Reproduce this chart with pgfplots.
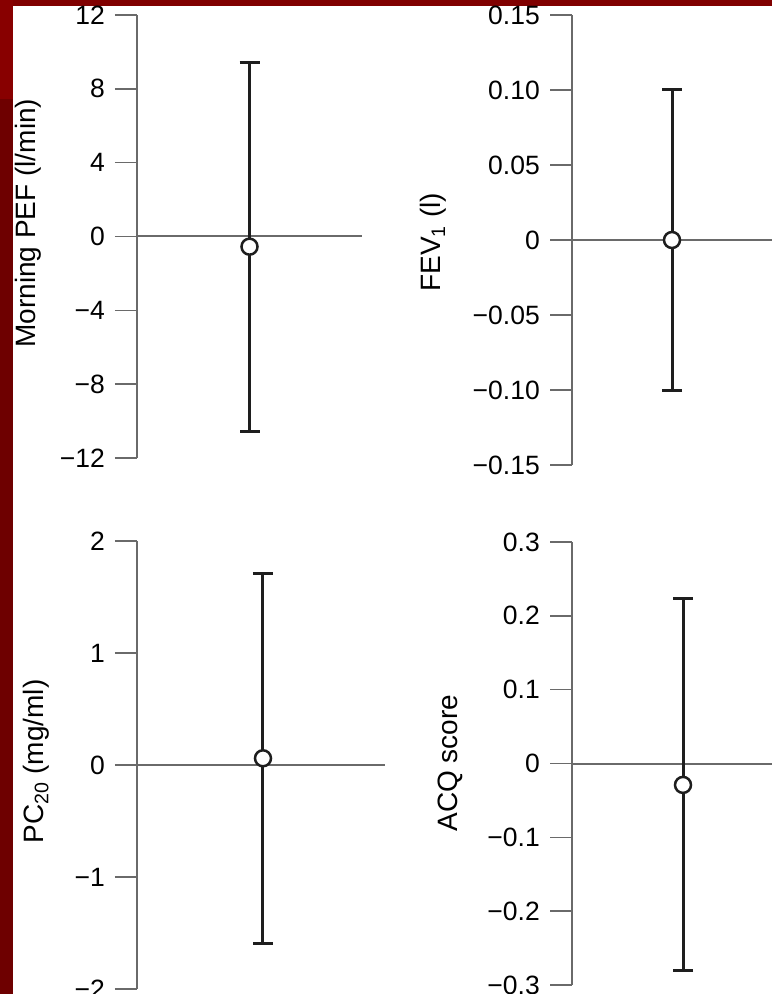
\documentclass[border=0pt]{standalone}
\usepackage{fontspec}
\setmainfont{Liberation Sans}
\usepackage{pgfplots}
\pgfplotsset{compat=1.18}
\definecolor{bandred}{HTML}{800000}
\definecolor{stripred}{HTML}{6E0000}
\definecolor{stripredtop}{HTML}{880000}
\definecolor{axgray}{HTML}{6A6A6A}
\definecolor{barcol}{HTML}{1E1E1E}
\pgfplotsset{
 panel/.style={
  scale only axis, clip=false, enlargelimits=false,
  axis x line=none, axis y line=left,
  y axis line style={-, axgray, line width=1.6pt},
  ytick style={axgray, line width=1.6pt},
  tick align=outside, major tick length=22pt,
  xmin=0, xmax=1,
  yticklabel style={font=\fontsize{26.5}{30}\selectfont, anchor=east, inner sep=0pt, xshift=-10pt},
  ylabel style={font=\fontsize{28}{32}\selectfont, anchor=center},
 },
 zeroline/.style={axgray, line width=2pt, no marks, forget plot},
 ebar/.style={barcol, only marks, mark=*, mark size=8pt,
   mark options={fill=white, draw=barcol, line width=2.5pt},
   error bars/.cd, y dir=both, y explicit,
   error bar style={barcol, line width=3pt},
   error mark options={barcol, line width=3pt, mark size=10pt, rotate=90}},
}
\begin{document}
\begin{tikzpicture}
\useasboundingbox (0pt,0pt) rectangle (772pt,994pt);
\clip (0pt,0pt) rectangle (772pt,994pt);
\fill[white] (0pt,0pt) rectangle (772pt,994pt);
\fill[bandred] (0pt,988pt) rectangle (772pt,994pt);
\fill[stripred] (0pt,0pt) rectangle (13pt,994pt);
\fill[stripredtop] (0pt,895pt) rectangle (13pt,994pt);

% Panel 1: Morning PEF
\begin{axis}[panel, at={(137pt,536pt)}, anchor=south west, width=225pt, height=443pt,
  ymin=-12, ymax=12, ytick={-12,-8,-4,0,4,8,12},
  yticklabels={−12,−8,−4,0,4,8,12},
  ylabel={Morning PEF (l/min)},
  ylabel style={at={(axis description cs:-0.484,0.53)}}]
\addplot[zeroline] coordinates {(0,0) (1,0)};
\addplot[ebar] coordinates {(0.5,-0.55) +- (0,10.0)};
\end{axis}

% Panel 2: FEV1
\begin{axis}[panel, at={(572pt,529pt)}, anchor=south west, width=200pt, height=450pt,
  ymin=-0.15, ymax=0.15, ytick={-0.15,-0.10,-0.05,0,0.05,0.10,0.15},
  yticklabels={−0.15,−0.10,−0.05,0,0.05,0.10,0.15},
  ylabel={FEV$_{\mathrm{1}}$ (l)},
  ylabel style={at={(axis description cs:-0.695,0.495)}}]
\addplot[zeroline] coordinates {(0,0) (1,0)};
\addplot[ebar] coordinates {(0.5,0) +- (0,0.1005)};
\end{axis}

% Panel 3: PC20
\begin{axis}[panel, at={(137pt,5pt)}, anchor=south west, width=248pt, height=448pt,
  ymin=-2, ymax=2, ytick={-2,-1,0,1,2},
  yticklabels={−2,−1,0,1,2},
  ylabel={PC\textsubscript{20} (mg/ml)},
  ylabel style={at={(axis description cs:-0.407,0.508)}}]
\addplot[zeroline] coordinates {(0,0) (1,0)};
\addplot[ebar] coordinates {(0.508,0.06) +- (0,1.65)};
\end{axis}

% Panel 4: ACQ score
\begin{axis}[panel, at={(572pt,9pt)}, anchor=south west, width=200pt, height=443pt,
  ymin=-0.3, ymax=0.3, ytick={-0.3,-0.2,-0.1,0,0.1,0.2,0.3},
  yticklabels={−0.3,−0.2,−0.1,0,0.1,0.2,0.3},
  ylabel={ACQ score},
  ylabel style={at={(axis description cs:-0.61,0.501)}}]
\addplot[zeroline] coordinates {(0,0) (1,0)};
\addplot[ebar] coordinates {(0.555,-0.029) +- (0,0.252)};
\end{axis}
\end{tikzpicture}
\end{document}
